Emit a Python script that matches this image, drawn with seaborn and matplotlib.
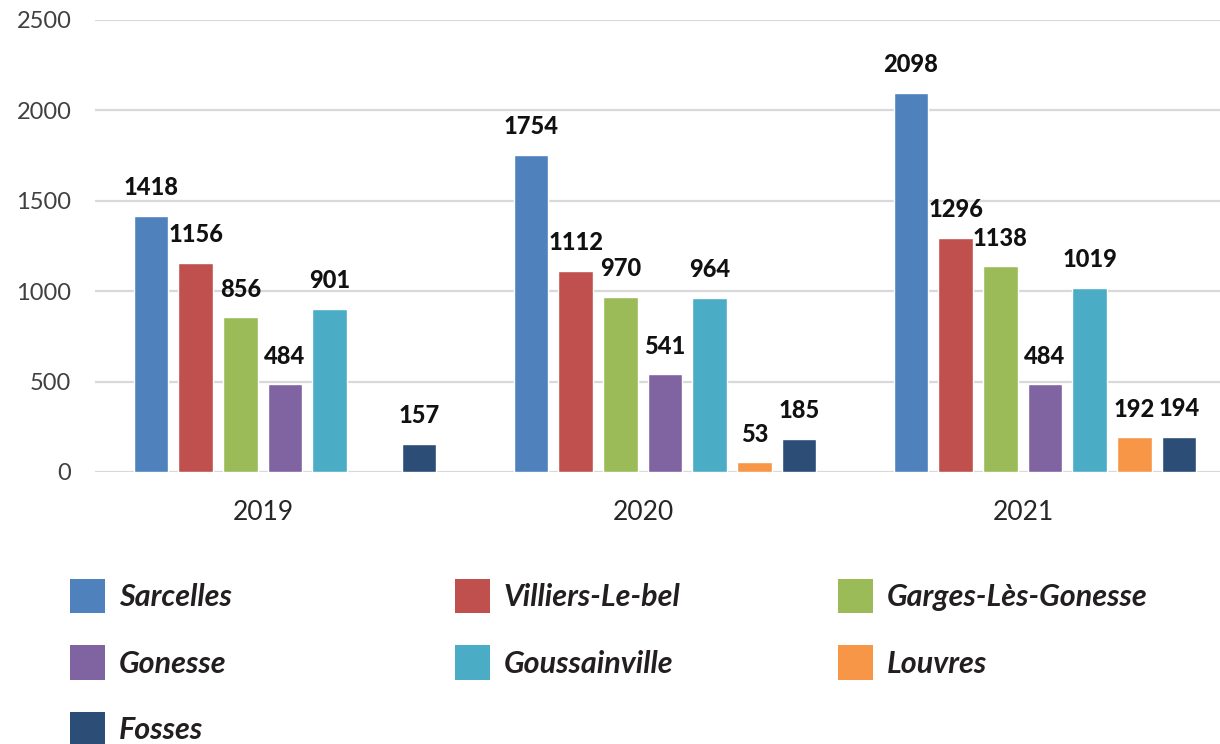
import numpy as np
import pandas as pd
import matplotlib
matplotlib.use("Agg")
import matplotlib.pyplot as plt
import matplotlib.transforms as mtransforms
from matplotlib.patches import Patch
import seaborn as sns

# ========== DATA ==========
years = ["2019", "2020", "2021"]
villes = ["Sarcelles", "Villiers-Le-bel", "Garges-Lès-Gonesse", "Gonesse",
          "Goussainville", "Louvres", "Fosses"]
sarcelles = [1418, 1754, 2098]
villiers = [1156, 1112, 1296]
garges = [856, 970, 1138]
gonesse = [484, 541, 484]
goussainville = [901, 964, 1019]
louvres = [np.nan, 53, 192]
fosses = [157, 185, 194]
yticks = [0, 500, 1000, 1500, 2000, 2500]

colors = ["#4F81BD", "#C0504D", "#9BBB59", "#8064A2", "#4BACC6", "#F79646", "#2C4D75"]

# ========== STYLE ==========
sns.set_theme(style="white")
plt.rcParams['font.family'] = ['Lato', 'DejaVu Sans']

series = [sarcelles, villiers, garges, gonesse, goussainville, louvres, fosses]
rows = []
for ville, vals in zip(villes, series):
    for year, v in zip(years, vals):
        rows.append({"year": year, "ville": ville, "value": v})
df = pd.DataFrame(rows)

fig = plt.figure(figsize=(12.2, 7.44), dpi=100)
ax = fig.add_axes([95 / 1220, 272 / 744, 1140 / 1220, 452 / 744])

sns.barplot(data=df, x="year", y="value", hue="ville", hue_order=villes,
            order=years, palette=colors, width=0.823, gap=0.22,
            errorbar=None, legend=False, ax=ax, saturation=1)

# value labels
for p in ax.patches:
    h = p.get_height()
    if not np.isfinite(h) or h <= 0:
        continue
    ax.annotate(f"{int(round(h))}", (p.get_x() + p.get_width() / 2, h),
                xytext=(0, 12), textcoords="offset points",
                ha="center", va="bottom", fontsize=17, fontweight="black",
                color="#111111")

ax.set_ylim(0, 2500)
ax.set_xlim(-0.5, 2.5)
ax.set_yticks(yticks)
ax.set_yticklabels([str(t) for t in yticks])
ax.yaxis.grid(True, color="#d9d9d9", linewidth=1.6)
ax.set_axisbelow(True)
for s in ax.spines.values():
    s.set_visible(False)
ax.tick_params(axis="y", length=0, pad=17, labelsize=17, labelcolor="#404040")
ax.tick_params(axis="x", length=0, pad=20, labelsize=19, labelcolor="#262626")
ax.set_xlabel("")
ax.set_ylabel("")

# year labels sit a little left of the group centres in the original
shift = mtransforms.ScaledTranslation(-22 / 100, 0, fig.dpi_scale_trans)
for lbl in ax.get_xticklabels():
    lbl.set_transform(lbl.get_transform() + shift)

# ========== LEGEND ==========
handles = {v: Patch(facecolor=c, edgecolor="none") for v, c in zip(villes, colors)}
columns = [
    (70, ["Sarcelles", "Gonesse", "Fosses"]),
    (455, ["Villiers-Le-bel", "Goussainville"]),
    (838, ["Garges-Lès-Gonesse", "Louvres"]),
]
for x0, names in columns:
    leg = fig.legend([handles[n] for n in names], names,
                     loc="upper left", bbox_to_anchor=(x0 / 1220, 1 - 579 / 744),
                     frameon=False, borderpad=0, borderaxespad=0,
                     handlelength=1.15, handleheight=1.35, handletextpad=0.45,
                     labelspacing=1.05,
                     prop={"family": "Lato", "weight": "bold", "style": "italic", "size": 22})
    for t in leg.get_texts():
        t.set_color("#231F20")

fig.savefig("out.png", dpi=100)
